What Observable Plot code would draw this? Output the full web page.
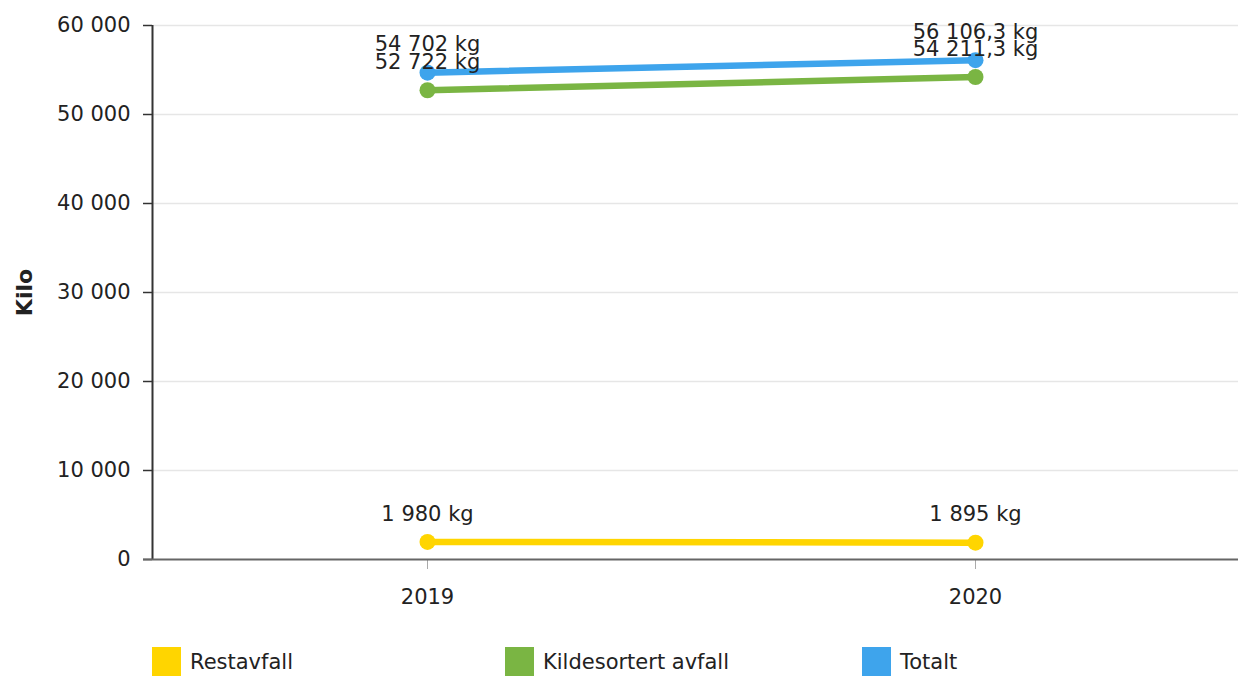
<!DOCTYPE html>
<html>
<head>
<meta charset="utf-8">
<script src="https://cdn.jsdelivr.net/npm/d3@7"></script>
<script src="https://cdn.jsdelivr.net/npm/@observablehq/plot@0.6"></script>
<style>
  html, body { margin: 0; padding: 0; background: #fff; }
  body { width: 1238px; height: 676px; overflow: hidden; font-family: "DejaVu Sans", Verdana, sans-serif; }
  #legend { position: relative; height: 51px; }
  .item { position: absolute; top: 22px; display: flex; align-items: flex-start; font-size: 21px; color: #222; }
  .sw { width: 29px; height: 29px; margin-right: 9px; }
  .lab { line-height: 29px; margin-top: 1px; }
</style>
</head>
<body>
<div id="chart"></div>
<div id="legend"></div>
<script>
const years = [2019, 2020];
const seriesNames = ["Restavfall", "Kildesortert avfall", "Totalt"];
const restavfall = [1980, 1895];
const kildesortert = [52722, 54211.3];
const totalt = [54702, 56106.3];
const seriesColors = ["#FFD500", "#7AB543", "#3EA4EC"];
const yTicks = [0, 10000, 20000, 30000, 40000, 50000, 60000];
const legendLeft = [152, 505, 862];

const no = d3.formatLocale({decimal: ",", thousands: " ", grouping: [3], currency: ["", " kr"]});
const fmtTick = no.format(",");
const fmtVal = no.format(",.1~f");

const valuesBySeries = [restavfall, kildesortert, totalt];
const rows = [];
seriesNames.forEach((s, i) => {
  years.forEach((y, j) => rows.push({series: s, year: y, value: valuesBySeries[i][j]}));
});

const xMin = 2019 - 275 / 548, xMax = 2020 + 263 / 548;

const chart = Plot.plot({
  width: 1238,
  height: 625,
  marginLeft: 152,
  marginRight: 0,
  marginTop: 25,
  marginBottom: 66,
  style: {fontFamily: "DejaVu Sans, Verdana, sans-serif", fontSize: "20px", color: "#222", background: "#fff"},
  x: {type: "linear", domain: [xMin, xMax]},
  y: {domain: [0, 60000]},
  color: {domain: seriesNames, range: seriesColors},
  marks: [
    Plot.ruleY(yTicks.slice(1), {stroke: "#e6e6e6", strokeWidth: 1.5}),
    Plot.axisY({ticks: yTicks, tickFormat: fmtTick, tickSize: 9, tickPadding: 13, stroke: "#333", strokeWidth: 1.5,
      fontSize: 21, label: "Kilo", labelAnchor: "center", labelArrow: "none", labelOffset: 136}),
    Plot.ruleX([xMin], {y1: 0, y2: 60000, stroke: "#333", strokeWidth: 2}),
    Plot.axisX({ticks: years, tickFormat: d => String(d), tickSize: 10, tickPadding: 20, stroke: "#aaa", fontSize: 21, label: null}),
    Plot.ruleY([0], {stroke: "#666", strokeWidth: 2, insetLeft: -9}),
    Plot.line(rows, {x: "year", y: "value", z: "series", stroke: "series", strokeWidth: 6.5, strokeLinecap: "round"}),
    Plot.dot(rows, {x: "year", y: "value", fill: "series", r: 8}),
    Plot.text(rows, {x: "year", y: "value", text: d => fmtVal(d.value) + " kg", dy: -28, fill: "#222", fontSize: 21})
  ]
});
document.getElementById("chart").appendChild(chart);

// make the y-axis label bold
chart.querySelectorAll("g[aria-label='y-axis label'] text").forEach(t => { t.setAttribute("font-weight", "bold"); t.setAttribute("font-size", "22"); });

const legend = document.getElementById("legend");
seriesNames.forEach((s, i) => {
  const it = document.createElement("div");
  it.className = "item";
  it.style.left = legendLeft[i] + "px";
  it.innerHTML = `<div class="sw" style="background:${seriesColors[i]}"></div><div class="lab">${s}</div>`;
  legend.appendChild(it);
});
</script>
</body>
</html>
